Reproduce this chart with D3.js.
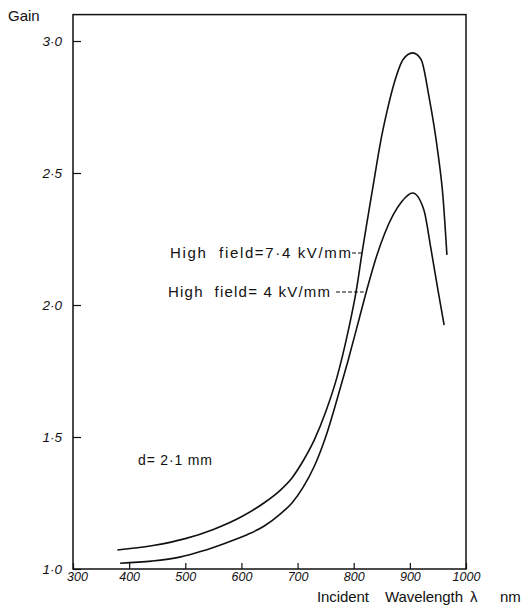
<!DOCTYPE html>
<html><head><meta charset="utf-8">
<script src="https://cdn.jsdelivr.net/npm/d3@7"></script>
<style>
body{margin:0;background:#fff;}
text{font-family:"Liberation Sans",Arial,sans-serif;fill:#111;}
</style></head>
<body><svg id="c" width="521" height="605"></svg>
<script>
const xTickValues = [300,400,500,600,700,800,900,1000];
const xTickLabels = ["300","400","500","600","700","800","900","1000"];
const yTickValues = [1.0,1.5,2.0,2.5,3.0];
const yTickLabels = ["1·0","1·5","2·0","2·5","3·0"];

const highWl   = [379,440,500,550,600,640,670,690,710,730,750,770,790,805,815,825,836,848,860,872,888,905,920,934,950,959,966];
const highGain = [1.072,1.088,1.115,1.15,1.198,1.25,1.30,1.345,1.41,1.49,1.595,1.725,1.90,2.06,2.20,2.33,2.47,2.62,2.74,2.84,2.93,2.955,2.93,2.79,2.576,2.41,2.19];
const lowWl    = [384,440,490,530,570,610,640,670,690,710,730,750,770,790,810,825,840,855,870,885,905,925,937,950,961];
const lowGain  = [1.022,1.03,1.045,1.068,1.097,1.13,1.162,1.21,1.25,1.31,1.39,1.50,1.64,1.79,1.95,2.07,2.18,2.27,2.34,2.39,2.424,2.36,2.22,2.057,1.924];

const svg = d3.select("#c");
const x = d3.scaleLinear().domain([300,1000]).range([73,466]);
const y = d3.scaleLinear().domain([1.0,3.0]).range([569,41]);
const yTop = 3.1;

svg.append("rect").attr("x",x(300)).attr("y",y(yTop))
  .attr("width",x(1000)-x(300)).attr("height",y(1.0)-y(yTop))
  .attr("fill","none").attr("stroke","#111").attr("stroke-width",1.5);

const xAxis = d3.axisBottom(x).tickValues(xTickValues).tickSize(-6).tickPadding(3)
  .tickFormat((d,i)=>xTickLabels[i]);
const gx = svg.append("g").attr("transform",`translate(0,${y(1.0)})`).call(xAxis);
gx.select(".domain").remove();
gx.selectAll("line").attr("stroke","#111").attr("stroke-width",1.2);
gx.selectAll("text").attr("font-size",12.5).attr("font-style","italic").attr("fill","#111");
gx.selectAll(".tick").filter(d=>d===300).select("text").attr("dx",4);

const yAxis = d3.axisLeft(y).tickValues(yTickValues).tickSize(-8).tickPadding(11)
  .tickFormat((d,i)=>yTickLabels[i]);
const gy = svg.append("g").attr("transform",`translate(${x(300)},0)`).call(yAxis);
gy.select(".domain").remove();
gy.selectAll("line").attr("stroke","#111").attr("stroke-width",1.2);
gy.selectAll("text").attr("font-size",13.5).attr("font-style","italic").attr("fill","#111");

const line = d3.line().x(d=>x(d[0])).y(d=>y(d[1])).curve(d3.curveMonotoneX);
const hi = highWl.map((w,i)=>[w,highGain[i]]);
const lo = lowWl.map((w,i)=>[w,lowGain[i]]);
[hi,lo].forEach(s=>{
  svg.append("path").datum(s).attr("d",line).attr("fill","none")
    .attr("stroke","#111").attr("stroke-width",1.6);
});

svg.append("text").attr("x",8).attr("y",21).attr("font-size",15).text("Gain");
const xt = svg.append("g").attr("font-size",15);
xt.append("text").attr("x",317).attr("y",602).attr("textLength",52).attr("lengthAdjust","spacing").text("Incident");
xt.append("text").attr("x",385).attr("y",602).attr("textLength",78).attr("lengthAdjust","spacing").text("Wavelength");
xt.append("text").attr("x",470).attr("y",602).text("λ");
xt.append("text").attr("x",500).attr("y",602).text("nm");

svg.append("text").attr("x",138).attr("y",465).attr("font-size",14)
  .attr("textLength",74).attr("lengthAdjust","spacing").text("d= 2·1 mm");

svg.append("text").attr("x",170).attr("y",258).attr("font-size",15)
  .attr("textLength",181).attr("lengthAdjust","spacing").attr("xml:space","preserve")
  .text("High  field=7·4 kV/mm");
svg.append("line").attr("x1",352).attr("x2",x(815)).attr("y1",253).attr("y2",253)
  .attr("stroke","#111").attr("stroke-dasharray","4,2").attr("stroke-width",1);
svg.append("text").attr("x",168).attr("y",297).attr("font-size",15)
  .attr("textLength",162).attr("lengthAdjust","spacing").attr("xml:space","preserve")
  .text("High  field= 4 kV/mm");
svg.append("line").attr("x1",336).attr("x2",x(818)).attr("y1",292).attr("y2",292)
  .attr("stroke","#111").attr("stroke-dasharray","4,2").attr("stroke-width",1);
</script></body></html>
